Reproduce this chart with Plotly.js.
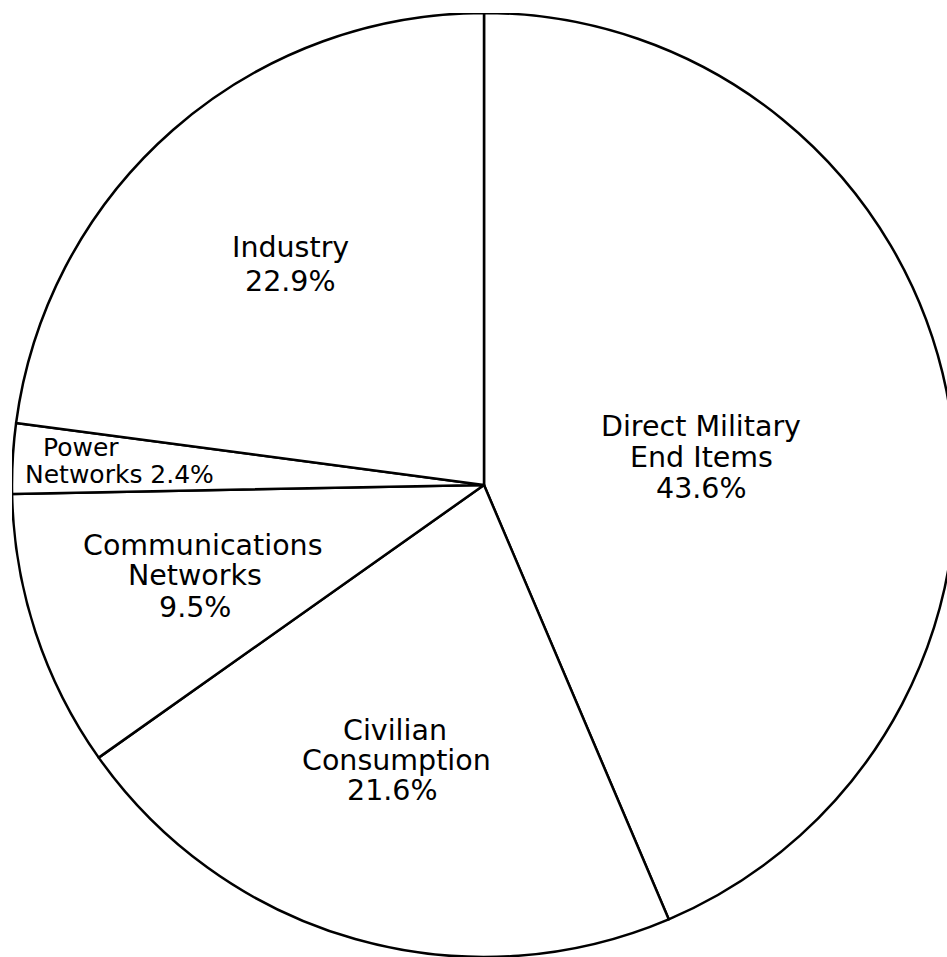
<!DOCTYPE html>
<html><head><meta charset="utf-8">
<script src="https://cdn.plot.ly/plotly-3.0.1.min.js"></script>
<style>html,body{margin:0;padding:0;background:#fff;overflow:hidden;width:947px;height:957px}
#chart{position:absolute;left:12px;top:13px;width:944px;height:944px}</style>
</head><body><div id="chart"></div>
<script>
const categories = ["Direct Military End Items", "Civilian Consumption", "Communications Networks", "Power Networks", "Industry"];
const labelLines = [["Direct Military", "End Items"], ["Civilian", "Consumption"], ["Communications", "Networks"], ["Power", "Networks"], ["Industry"]];
const shares = [43.6, 21.6, 9.5, 2.4, 22.9];

// label line placement (page pixels) -- style only
const linePos = [
  [[701, 426], [701, 457], [701, 488]],
  [[395, 730], [396, 760], [392, 790]],
  [[202, 545], [195, 575], [195, 607]],
  [[42, 447], [24, 474]],
  [[290, 248], [290, 281]]
];
const W = 944, L = 12, T = 13;
const annotations = [];
categories.forEach((c, i) => {
  let lines;
  if (i === 3) {
    lines = [labelLines[i][0], labelLines[i][1] + ' ' + shares[i].toFixed(1) + '%'];
  } else {
    lines = labelLines[i].concat([shares[i].toFixed(1) + '%']);
  }
  lines.forEach((t, j) => {
    const p = linePos[i][j];
    annotations.push({
      xref: 'paper', yref: 'paper',
      x: (p[0] - L) / W, y: 1 - (p[1] - T) / W,
      xanchor: i === 3 ? 'left' : 'center', yanchor: 'middle',
      text: t, showarrow: false, borderpad: 0,
      font: {family: '"DejaVu Sans", sans-serif', size: i === 3 ? 25 : 28.5, color: '#000'}
    });
  });
});

Plotly.newPlot('chart', [{
  type: 'pie',
  labels: categories,
  values: shares,
  sort: false,
  direction: 'clockwise',
  rotation: 0,
  textinfo: 'none',
  hoverinfo: 'label+percent',
  marker: {colors: categories.map(() => '#ffffff'), line: {color: '#000', width: 2.5}},
  domain: {x: [0, 1], y: [0, 1]}
}], {
  width: 944, height: 944,
  margin: {l: 0, r: 0, t: 0, b: 0},
  showlegend: false,
  paper_bgcolor: '#fff',
  annotations: annotations
}, {displayModeBar: false, staticPlot: true});
</script></body></html>
